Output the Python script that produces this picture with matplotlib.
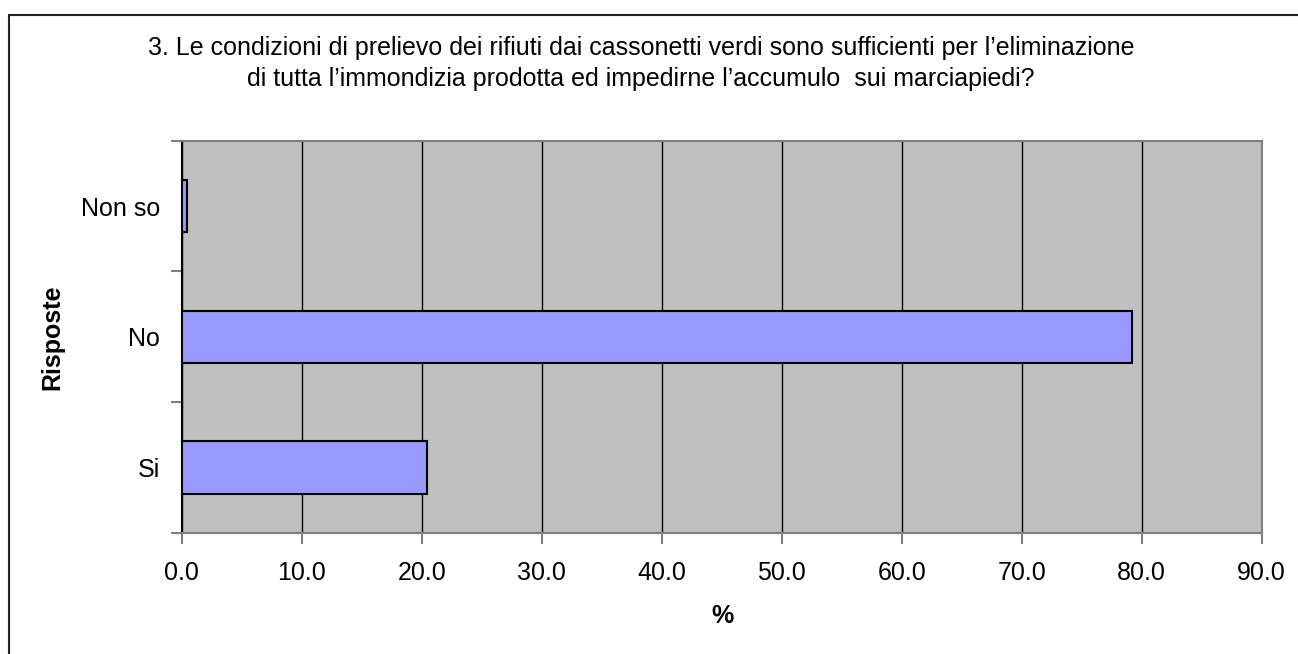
import matplotlib
matplotlib.use('Agg')
import matplotlib.pyplot as plt
from matplotlib.patches import Rectangle

# survey answers (percent)
categories = ["Si", "No", "Non so"]
values = [20.4, 79.2, 0.4]
x_ticks = [0, 10, 20, 30, 40, 50, 60, 70, 80, 90]
title_lines = [
    "3. Le condizioni di prelievo dei rifiuti dai cassonetti verdi sono sufficienti per l\u2019eliminazione",
    "di tutta l\u2019immondizia prodotta ed impedirne l\u2019accumulo  sui marciapiedi?",
]

plt.rcParams['font.family'] = ['Liberation Sans', 'DejaVu Sans']
fs = 18

W, H = 1298, 654
fig = plt.figure(figsize=(W / 100, H / 100), dpi=100)

# outer chart border (right and bottom edges are off-canvas)
fig.patches.append(Rectangle((9 / W, -0.1), 1.2, (H - 15) / H + 0.1,
                             transform=fig.transFigure, fill=False,
                             edgecolor='#222222', linewidth=1.5))

ax = fig.add_axes([181.7 / W, (H - 533) / H, 1080 / W, 392.3 / H])
ax.set_facecolor('#C0C0C0')

pos = range(len(categories))
ax.barh(pos, values, height=0.4, color='#9999FF', edgecolor='black',
        linewidth=1.5, zorder=3)

ax.set_xlim(0, 90)
ax.set_ylim(-0.5, len(categories) - 0.5)
ax.set_xticks(x_ticks)
ax.set_xticklabels([f"{v:.1f}" for v in x_ticks], fontsize=fs)
ax.xaxis.grid(True, color='black', linewidth=1, zorder=1)
ax.set_axisbelow(True)

# category labels between boundary ticks
ax.set_yticks([p - 0.5 for p in range(len(categories) + 1)])
ax.set_yticklabels([])
ax.set_yticks(list(pos), minor=True)
ax.set_yticklabels(categories, minor=True, fontsize=fs)
ax.tick_params(axis='y', which='minor', length=0, pad=15.5)
ax.tick_params(axis='y', which='major', length=8, color='#808080', width=1.5)
ax.tick_params(axis='x', length=8, color='#808080', width=1.5, pad=12)

for side in ['top', 'right', 'bottom']:
    ax.spines[side].set_color('#808080')
    ax.spines[side].set_linewidth(1.5)
ax.spines['left'].set_color('black')
ax.spines['left'].set_linewidth(1.5)

fig.text(722 / W, 1 - 616 / H, "%", ha='center', va='center',
         fontsize=fs, fontweight='bold')
fig.text(52 / W, 1 - 337 / H, "Risposte", ha='center', va='center',
         rotation=90, fontsize=fs, fontweight='bold')

fig.text(641 / W, 1 - 47.5 / H, title_lines[0], ha='center', va='center', fontsize=fs)
fig.text(641 / W, 1 - 79 / H, title_lines[1], ha='center', va='center', fontsize=fs)

fig.savefig('out.png', dpi=100)
